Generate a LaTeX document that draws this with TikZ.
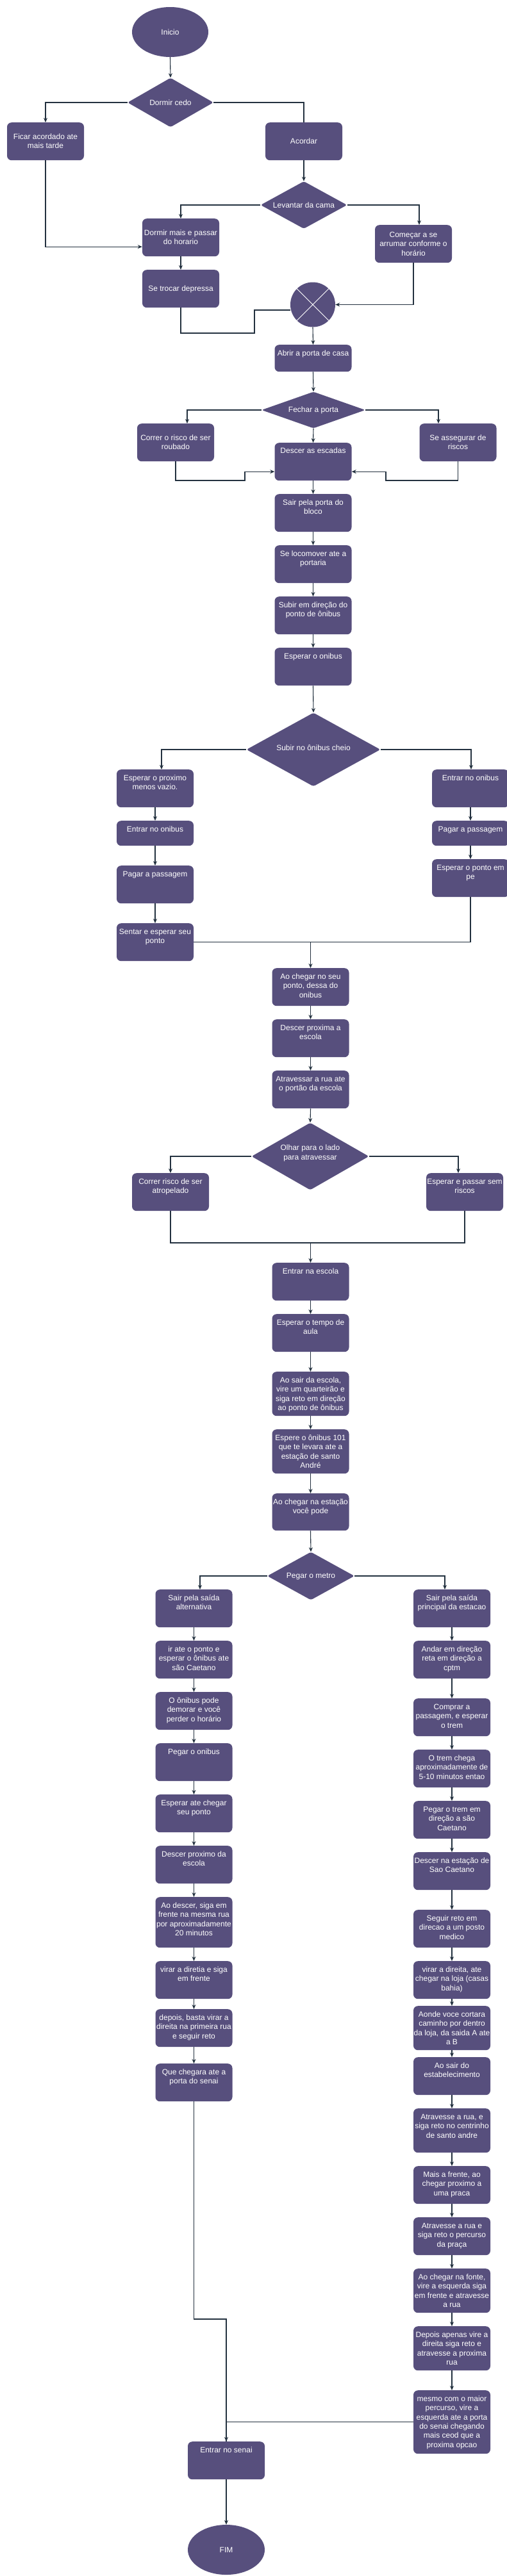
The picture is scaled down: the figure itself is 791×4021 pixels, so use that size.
\documentclass[tikz,border=0pt]{standalone}
\usepackage{fontspec}
\setmainfont{Liberation Sans}
\usetikzlibrary{shapes.geometric,arrows.meta,calc}
\definecolor{boxc}{HTML}{574F7D}
\definecolor{linec}{HTML}{23313F}
\tikzset{
 box/.style={rectangle, rounded corners=7pt, fill=boxc, inner sep=0pt},
 dia/.style={diamond, fill=boxc, inner sep=0pt, rounded corners=3pt},
 ell/.style={ellipse, fill=boxc, inner sep=0pt},
 txt/.style={text=white, font=\fontsize{12}{14.3}\selectfont, align=center, inner sep=0pt},
 ln/.style={draw=linec, line width=1.1pt},
 arr/.style={ln, -{Stealth[length=7pt,width=6pt]}},
}
\newcommand\bx[7]{%
 \node[box, minimum width=#4pt, minimum height=#5pt, anchor=north] (#1) at (#2,#3) {};
 \node[txt, anchor=north] at (#2,{#6-5.7}) {\strut #7};}
\newcommand\dm[7]{%
 \node[dia, minimum width=#4pt, minimum height=#5pt] (#1) at (#2,#3) {};
 \node[txt] at (#2,#6) {#7};}
\begin{document}
\begin{tikzpicture}[x=1pt,y=-1pt]
\useasboundingbox (0,0) rectangle (791,4021);
% ---- top
\node[ell, minimum width=119pt, minimum height=78pt] (ini) at (265.5,50) {};
\node[txt] at (265.5,50) {Inicio};
\dm{dc}{266}{160}{134}{77}{160}{Dormir cedo}
\bx{fa}{71}{191}{120}{59}{213}{Ficar acordado ate\\mais tarde}
\bx{ac}{474}{191}{120}{59}{220}{Acordar}
\dm{lv}{474}{320}{135}{74}{320}{Levantar da cama}
\bx{dm}{282}{341}{120}{59}{363}{Dormir mais e passar\\do horario}
\bx{cm}{645}{351}{120}{59}{366}{Começar a se\\arrumar conforme o\\horário}
\bx{st}{282}{421}{120}{59}{450}{Se trocar depressa}
\node[circle, fill=boxc, minimum size=70pt, inner sep=0pt] (xc) at (488,475.5) {};
\draw[white, line width=0.8pt] (xc.135) -- (xc.-45) (xc.45) -- (xc.-135);
\bx{ab}{488.5}{538}{120}{42}{551}{Abrir a porta de casa}
\dm{fp}{489}{640}{162}{57}{640}{Fechar a porta}
\bx{cr}{274}{661}{120}{59}{683}{Correr o risco de ser\\roubado}
\bx{sa}{714.5}{661}{120}{59}{683}{Se assegurar de\\riscos}
\bx{de}{488.5}{691}{120}{59}{703}{Descer as escadas}
\bx{sp}{488.5}{771}{120}{59}{784}{Sair pela porta do\\bloco}
\bx{sl}{488.5}{851}{120}{59}{864}{Se locomover ate a\\portaria}
\bx{sb}{488.5}{931}{120}{59}{944}{Subir em direção do\\ponto de ônibus}
\bx{eo}{488.5}{1011}{120}{59}{1024}{Esperar o onibus}
\dm{so}{489}{1170}{209}{115}{1167}{Subir no ônibus cheio}
\bx{ep}{242}{1201}{120}{59}{1214}{Esperar o proximo\\menos vazio.}
\bx{enr}{734}{1201}{120}{59}{1214}{Entrar no onibus}
\bx{enl}{242}{1281}{120}{39}{1294}{Entrar no onibus}
\bx{pgr}{734}{1281}{120}{39}{1294}{Pagar a passagem}
\bx{pgl}{242}{1351}{120}{59}{1364}{Pagar a passagem}
\bx{ept}{734}{1341}{120}{59}{1354}{Esperar o ponto em\\pe}
\bx{se}{242}{1441}{120}{59}{1454}{Sentar e esperar seu\\ponto}
\bx{ach}{484.5}{1511}{120}{59}{1524}{Ao chegar no seu\\ponto, dessa do\\onibus}
\bx{dp}{484.5}{1591}{120}{59}{1604}{Descer proxima a\\escola}
\bx{atr}{484.5}{1671}{120}{59}{1684}{Atravessar a rua ate\\o portão da escola}
\dm{ol}{484}{1805}{183}{105}{1800}{Olhar para o lado\\para atravessar}
\bx{ra}{266}{1831}{120}{59}{1844}{Correr risco de ser\\atropelado}
\bx{eps}{725}{1831}{120}{59}{1844}{Esperar e passar sem\\riscos}
\bx{ee}{484.5}{1971}{120}{59}{1984}{Entrar na escola}
\bx{et}{484.5}{2051}{120}{59}{2064}{Esperar o tempo de\\aula}
\bx{asa}{484.5}{2141}{120}{69}{2154}{Ao sair da escola,\\vire um quarteirão e\\siga reto em direção\\ao ponto de ônibus}
\bx{eoa}{484.5}{2231}{120}{69}{2244}{Espere o ônibus 101\\que te levara ate a\\estação de santo\\André}
\bx{acv}{484.5}{2331}{120}{58}{2344}{Ao chegar na estação\\você pode}
\dm{pm}{485}{2460}{136}{75}{2461}{Pegar o metro}
% ---- left column
\bx{sal}{302.5}{2481}{120}{59}{2494}{Sair pela saída\\alternativa}
\bx{ir}{302.5}{2561}{120}{59}{2574}{ir ate o ponto e\\esperar o ônibus ate\\são Caetano}
\bx{ob}{302.5}{2641}{120}{59}{2654}{O ônibus pode\\demorar e você\\perder o horário}
\bx{po}{302.5}{2721}{120}{59}{2734}{Pegar o onibus}
\bx{ea}{302.5}{2801}{120}{59}{2814}{Esperar ate chegar\\seu ponto}
\bx{dpe}{302.5}{2881}{120}{59}{2894}{Descer proximo da\\escola}
\bx{ad}{302.5}{2961}{120}{79}{2974}{Ao descer, siga em\\frente na mesma rua\\por aproximadamente\\20 minutos}
\bx{vd}{302.5}{3061}{120}{59}{3074}{virar a diretia e siga\\em frente}
\bx{db}{302.5}{3136}{120}{59}{3149}{depois, basta virar a\\direita na primeira rua\\e seguir reto}
\bx{qc}{302.5}{3221}{120}{59}{3234}{Que chegara ate a\\porta do senai}
% ---- right column
\bx{spr}{705}{2481}{120}{59}{2494}{Sair pela saída\\principal da estacao}
\bx{an}{705}{2561}{120}{59}{2574}{Andar em direção\\reta em direção a\\cptm}
\bx{cp}{705}{2651}{120}{59}{2664}{Comprar a\\passagem, e esperar\\o trem}
\bx{tc}{705}{2731}{120}{59}{2744}{O trem chega\\aproximadamente de\\5-10 minutos entao}
\bx{pt}{705}{2811}{120}{59}{2824}{Pegar o trem em\\direção a são\\Caetano}
\bx{dn}{705}{2891}{120}{59}{2904}{Descer na estação de\\Sao Caetano}
\bx{sr}{705}{2981}{120}{59}{2994}{Seguir reto em\\direcao a um posto\\medico}
\bx{vr}{705}{3061}{120}{59}{3074}{virar a direita, ate\\chegar na loja (casas\\bahia)}
\bx{ao}{705}{3131}{120}{69}{3144}{Aonde voce cortara\\caminho por dentro\\da loja, da saida A ate\\a B}
\bx{est}{705}{3211}{120}{59}{3224}{Ao sair do\\estabelecimento}
\bx{atb}{705}{3291}{120}{69}{3304}{Atravesse a rua, e\\siga reto no centrinho\\de santo andre}
\bx{mf}{705}{3381}{120}{59}{3394}{Mais a frente, ao\\chegar proximo a\\uma praca}
\bx{arp}{705}{3461}{120}{59}{3474}{Atravesse a rua e\\siga reto o percurso\\da praça}
\bx{acf}{705}{3541}{120}{69}{3554}{Ao chegar na fonte,\\vire a esquerda siga\\em frente e atravesse\\a rua}
\bx{dap}{705}{3631}{120}{69}{3644}{Depois apenas vire a\\direita siga reto e\\atravesse a proxima\\rua}
\bx{mc}{705}{3731}{120}{99}{3744}{mesmo com o maior\\percurso, vire a\\esquerda ate a porta\\do senai chegando\\mais ceod que a\\proxima opcao}
% ---- end
\bx{en}{353}{3811}{120}{59}{3824}{Entrar no senai}
\node[ell, minimum width=120pt, minimum height=78pt] (fim) at (353,3980) {};
\node[txt] at (353,3980) {FIM};
% ---- straight arrows
\foreach \a/\b in {ini/dc,ac/lv,dm/st,xc/ab,ab/fp,fp/de,de/sp,sp/sl,sl/sb,sb/eo,eo/so,
  ep/enl,enl/pgl,pgl/se,enr/pgr,pgr/ept,ach/dp,dp/atr,atr/ol,ee/et,et/asa,asa/eoa,eoa/acv,acv/pm,
  sal/ir,ir/ob,ob/po,po/ea,ea/dpe,dpe/ad,ad/vd,vd/db,db/qc,
  spr/an,an/cp,cp/tc,tc/pt,pt/dn,dn/sr,sr/vr,vr/ao,ao/est,est/atb,atb/mf,mf/arp,arp/acf,acf/dap,dap/mc,
  en/fim}
  \draw[arr] (\a.south) -- (\b.north);
% ---- branches
\draw[arr] (dc.west) -| (fa.north);
\draw[ln] (dc.east) -| (ac.north);
\draw[arr] (lv.west) -| (dm.north);
\draw[arr] (lv.east) -| ([xshift=9pt]cm.north);
\draw[arr] (fa.south) |- ([yshift=-14.5pt]dm.west);
\coordinate (w1) at (397,520);
\draw[ln] (st.south) |- (w1) |- ([yshift=-8.5pt]xc.west);
\draw[arr] (cm.south) |- (xc.east);
\draw[arr] (fp.west) -| ([xshift=18pt]cr.north);
\draw[arr] (fp.east) -| ([xshift=-30.5pt]sa.north);
\coordinate (w2) at (382,750);
\coordinate (w3) at (602,750);
\draw[arr] (cr.south) |- (w2) |- ([yshift=-15.5pt]de.west);
\draw[arr] (sa.south) |- (w3) |- ([yshift=-15.5pt]de.east);
\draw[arr] (so.west) -| ([xshift=10pt]ep.north);
\draw[arr] (so.east) -| ([xshift=1pt]enr.north);
\draw[ln] (se.east) -| (ept.south);
\draw[arr] (se.east -| ach.north) -- (ach.north);
\draw[arr] (ol.west) -| (ra.north);
\draw[arr] (ol.east) -| ([xshift=-10pt]eps.north);
\coordinate (j2) at (484.5,1940);
\draw[ln] (ra.south) |- (j2) -| (eps.south);
\draw[arr] (j2) -- (ee.north);
\draw[arr] (pm.west) -| ([xshift=9.5pt]sal.north);
\draw[arr] (pm.east) -| ([xshift=-11pt]spr.north);
\coordinate (j3) at (353,3620);
\draw[arr] (qc.south) |- (j3) -- (en.north);
\draw[ln] (mc.west) -| (en.north);
\end{tikzpicture}
\end{document}
